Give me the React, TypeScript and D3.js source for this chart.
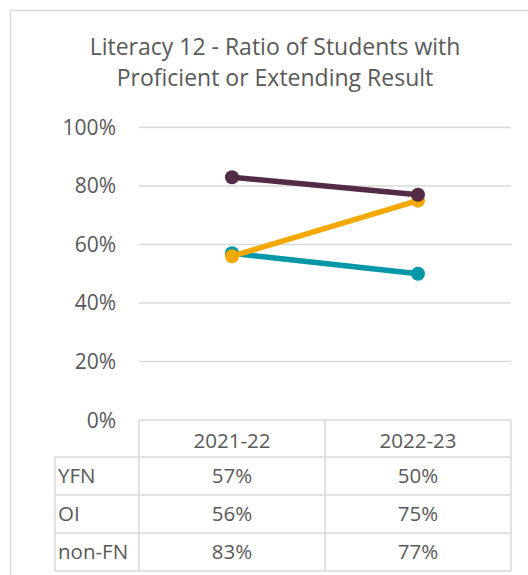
import React from "react";
import * as d3 from "d3";

const title = ["Literacy 12 - Ratio of Students with", "Proficient or Extending Result"];
const years = ["2021-22", "2022-23"];
const seriesNames = ["YFN", "OI", "non-FN"];
const yfn = [0.57, 0.5];
const oi = [0.56, 0.75];
const nonFN = [0.83, 0.77];
const seriesColors = ["#0397A7", "#F4A900", "#532B47"];
const yTicks = [0, 0.2, 0.4, 0.6, 0.8, 1.0];

const W = 528;
const H = 575;
const FONT = "'Open Sans', sans-serif";
const TEXT = "#595959";
const GRID = "#D9D9D9";

export default function App() {
  const x = d3.scaleBand<string>().domain(years).range([139, 511]).paddingInner(0).paddingOuter(0);
  const y = d3.scaleLinear().domain([0, 1]).range([420, 127.5]);
  const fmt = d3.format(".0%");
  const series = [yfn, oi, nonFN];
  const drawOrder = [0, 1, 2];
  const line = d3
    .line<number>()
    .x((_, i) => (x(years[i]) as number) + x.bandwidth() / 2)
    .y((d) => y(d));

  const rowTop = 420;
  const headerH = 37;
  const rowH = 38;
  const labelLeft = 55;
  const tableRight = 511;
  const tableBottom = rowTop + headerH + rowH * seriesNames.length;
  const fs = 20.5;

  return (
    <svg
      width={W}
      height={H}
      style={{ position: "absolute", left: 0, top: 0, background: "#fff" }}
      fontFamily={FONT}
    >
      <rect x={10.5} y={10.5} width={W} height={H} fill="#fff" stroke={GRID} strokeWidth={1.5} />
      {title.map((t, i) => (
        <text key={i} x={275} y={55 + i * 31} textAnchor="middle" fontSize={23} fill={TEXT}>
          {t}
        </text>
      ))}
      {yTicks.map((t) => (
        <g key={t}>
          {t > 0 && (
            <line x1={139} x2={tableRight} y1={y(t)} y2={y(t)} stroke={GRID} strokeWidth={1.5} />
          )}
          <text x={116} y={y(t) + (t === 0 ? 1 : 0)} dy="0.35em" textAnchor="end" fontSize={21} fill={TEXT}>
            {fmt(t)}
          </text>
        </g>
      ))}
      {/* table */}
      <g stroke={GRID} strokeWidth={1.5} fill="none">
        <line x1={139} x2={tableRight} y1={rowTop} y2={rowTop} />
        {seriesNames.map((_, i) => (
          <line key={i} x1={labelLeft} x2={tableRight} y1={rowTop + headerH + i * rowH} y2={rowTop + headerH + i * rowH} />
        ))}
        <line x1={labelLeft} x2={tableRight} y1={tableBottom} y2={tableBottom} />
        <line x1={labelLeft} x2={labelLeft} y1={rowTop + headerH} y2={tableBottom} />
        {years.map((yr) => (
          <line key={yr} x1={x(yr)} x2={x(yr)} y1={rowTop} y2={tableBottom} />
        ))}
        <line x1={tableRight} x2={tableRight} y1={rowTop} y2={tableBottom} />
      </g>
      {years.map((yr) => (
        <text
          key={yr}
          x={(x(yr) as number) + x.bandwidth() / 2}
          y={rowTop + headerH / 2 + 2}
          dy="0.35em"
          textAnchor="middle"
          fontSize={fs}
          fill={TEXT}
        >
          {yr}
        </text>
      ))}
      {seriesNames.map((name, i) => {
        const cy = rowTop + headerH + i * rowH + rowH / 2;
        return (
          <g key={name}>
            <text x={labelLeft + 3} y={cy} dy="0.35em" fontSize={fs} fill={TEXT}>
              {name}
            </text>
            {years.map((yr, j) => (
              <text
                key={yr}
                x={(x(yr) as number) + x.bandwidth() / 2}
                y={cy}
                dy="0.35em"
                textAnchor="middle"
                fontSize={fs}
                fill={TEXT}
              >
                {fmt(series[i][j])}
              </text>
            ))}
          </g>
        );
      })}
      {/* lines */}
      {drawOrder.map((si) => (
        <g key={si}>
          <path d={line(series[si]) || ""} fill="none" stroke={seriesColors[si]} strokeWidth={5.5} strokeLinecap="round" />
          {series[si].map((v, j) => (
            <circle
              key={j}
              cx={(x(years[j]) as number) + x.bandwidth() / 2}
              cy={y(v)}
              r={7}
              fill={seriesColors[si]}
            />
          ))}
        </g>
      ))}
    </svg>
  );
}
